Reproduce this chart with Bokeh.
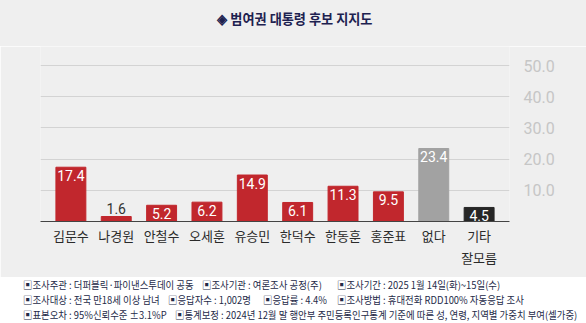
from bokeh.plotting import figure
from bokeh.models import (ColumnDataSource, FactorRange, Range1d, FixedTicker,
                          NumeralTickFormatter, Div)
from bokeh.layouts import column
from bokeh.core.properties import value
from bokeh.embed import file_html
from bokeh.resources import INLINE

# ---- data ----
categories = ["김문수", "나경원", "안철수", "오세훈", "유승민", "한덕수", "한동훈", "홍준표", "없다", "기타\n잘모름"]
support = [17.4, 1.6, 5.2, 6.2, 14.9, 6.1, 11.3, 9.5, 23.4, 4.5]
bar_kind = ["cand", "cand", "cand", "cand", "cand", "cand", "cand", "cand", "none", "etc"]
y_ticks = [10, 20, 30, 40, 50]
title_text = "◈ 범여권 대통령 후보 지지도"
footnotes = [
    ["▣조사주관 : 더퍼블릭·파이낸스투데이 공동", "▣조사기관 : 여론조사 공정(주)", "▣조사기간 : 2025 1월 14일(화)~15일(수)"],
    ["▣조사대상 : 전국 만18세 이상 남녀", "▣응답자수 : 1,002명", "▣응답률 : 4.4%", "▣조사방법 : 휴대전화 RDD100% 자동응답 조사"],
    ["▣표본오차 : 95%신뢰수준 ±3.1%P", "▣통계보정 : 2024년 12월 말 행안부 주민등록인구통계 기준에 따른 성, 연령, 지역별 가중치 부여(셀가중)"],
]
foot_x = [[23, 202, 337], [23, 168, 263, 337], [23, 175]]

# ---- styles ----
BG = "#efefef"
kind_color = {"cand": "#c1272d", "none": "#a2a2a2", "etc": "#262626"}
colors = [kind_color[k] for k in bar_kind]
inside = [v >= 3 for v in support]
label_color = ["#ffffff" if i else "#333333" for i in inside]
label_off = [8 if i else -8 for i in inside]
label_txt = [f"{v:.1f}" for v in support]

src = ColumnDataSource(dict(cat=categories, val=support, color=colors,
                            lcolor=label_color, loff=label_off, ltxt=label_txt))

# ---- title ----
title_div = Div(
    text=('<div style="position:relative;width:586px;height:46px;background:%s;">'
          '<span style="position:absolute;left:217px;top:10px;white-space:nowrap;'
          'display:inline-block;transform:scaleX(0.94);transform-origin:0 0;'
          'font-family:\'Noto Sans CJK KR\';font-size:14px;font-weight:bold;'
          'line-height:16px;color:#1d2150;">%s</span></div>') % (BG, title_text),
    width=586, height=46, margin=0, styles={"background-color": BG})

p = figure(width=586, height=231, output_backend="svg", toolbar_location=None,
           x_range=FactorRange(factors=categories, range_padding=0.17,
                               range_padding_units="absolute"),
           y_range=Range1d(0, 56.1), y_axis_location="right",
           min_border_left=40, min_border_right=77, min_border_top=0,
           min_border_bottom=56)
p.title.visible = False
p.background_fill_color = BG
p.border_fill_color = BG
p.outline_line_color = None

p.vbar(x="cat", top="val", width=0.66, color="color", source=src)
p.text(x="cat", y="val", text="ltxt", y_offset="loff", text_color="lcolor",
       text_align="center", text_baseline="middle",
       text_font=value("'Liberation Sans Narrow', Roboto"), text_font_size="14px",
       source=src)

# y axis (right)
ya = p.yaxis[0]
ya.ticker = FixedTicker(ticks=y_ticks)
ya.formatter = NumeralTickFormatter(format="0.0")
ya.axis_line_color = None
ya.major_tick_line_color = None
ya.minor_tick_line_color = None
ya.major_tick_out = 0
ya.major_label_standoff = 14
ya.major_label_text_color = "#c6c6c6"
ya.major_label_text_font = "'Liberation Sans Narrow', Roboto"
ya.major_label_text_font_size = "16px"

p.ygrid.ticker = FixedTicker(ticks=y_ticks)
p.ygrid.grid_line_color = "#d3d3d3"
p.xgrid.grid_line_color = None

xa = p.xaxis[0]
xa.axis_line_color = "#444444"
xa.axis_line_width = 1
xa.major_tick_line_color = None
xa.major_tick_out = 0
xa.major_label_standoff = 4
xa.major_label_text_font = "Noto Sans CJK KR"
xa.major_label_text_font_size = "13px"
xa.major_label_text_color = "#2a2a2a"

# ---- footnotes ----
spans = []
line_tops = [2.5, 18, 33.3]
for li, (row, xs) in enumerate(zip(footnotes, foot_x)):
    for txt, x in zip(row, xs):
        spans.append(
            f'<span style="position:absolute;left:{x}px;top:{line_tops[li]}px;'
            f'white-space:nowrap;display:inline-block;transform:scaleX(0.94);'
            f'transform-origin:0 0;line-height:10px;">{txt}</span>')
html = ('<div style="position:relative;width:586px;height:46px;background:#ffffff;'
        'font-family:\'Noto Sans CJK KR\';font-size:10px;'
        'line-height:10px;color:#242a48;">'
        + "".join(spans) + '</div>')
foot_div = Div(text=html, width=586, height=46, margin=0,
               styles={"background-color": "#ffffff"})

layout = column(title_div, p, foot_div, spacing=0)
open("out.html", "w").write(file_html(layout, INLINE))
